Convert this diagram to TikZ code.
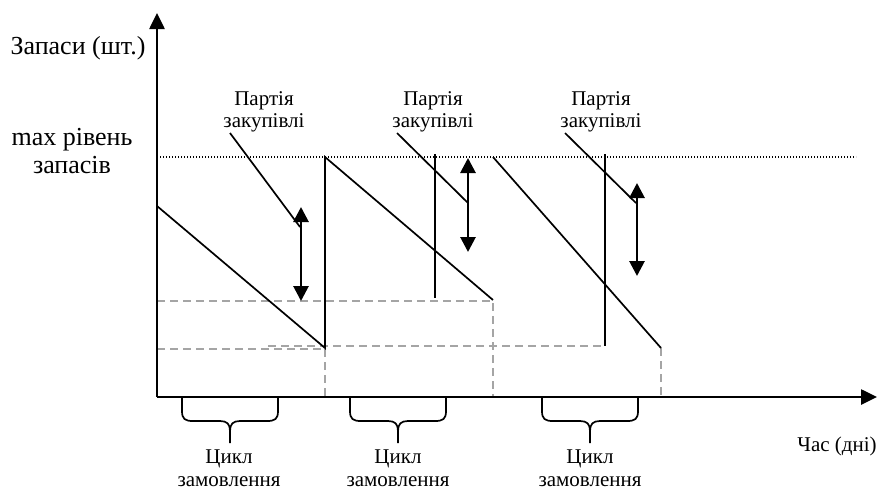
\documentclass[tikz,border=0pt]{standalone}
\usepackage{fontspec}
\setmainfont{Liberation Serif}
\usetikzlibrary{arrows.meta}
\tikzset{
  axisline/.style={line width=2.6pt,-{Triangle[width=15pt,length=16pt]}},
  saw/.style={line width=1.7pt},
  leader/.style={line width=1.7pt},
  batch/.style={line width=2.8pt,{Triangle[width=15pt,length=15pt]}-{Triangle[width=15pt,length=15pt]}},
  guide/.style={line width=1.5pt,draw={rgb,255:red,165;green,165;blue,165},dash pattern=on 8pt off 5pt},
  maxline/.style={line width=1.3pt,dash pattern=on 1.3pt off 1.7pt},
  bracepath/.style={line width=1.7pt},
  small/.style={font=\fontsize{21}{22.5}\selectfont,align=center,inner sep=0pt},
  cyc/.style={font=\fontsize{21}{23}\selectfont,align=center,inner sep=0pt},
  big/.style={font=\fontsize{26}{28}\selectfont,align=center,inner sep=0pt},
}
\newcommand{\cyclebrace}[3]{% left, right, name
  \pgfmathsetmacro{\xc}{(#1+#2)/2}
  \draw[bracepath] (#1,397) -- (#1,411) .. controls (#1,419) and (#1+3,421) .. (#1+11,421)
    -- (\xc-10,421) .. controls (\xc-3,421) and (\xc,424) .. (\xc,431) -- (\xc,443)
    -- (\xc,431) .. controls (\xc,424) and (\xc+3,421) .. (\xc+10,421)
    -- (#2-11,421) .. controls (#2-3,421) and (#2,419) .. (#2,411) -- (#2,397);
  \coordinate (#3) at (\xc,443);
}
\begin{document}
\begin{tikzpicture}[x=1pt,y=-1pt]
\useasboundingbox (0,0) rectangle (884,491);
% coordinates
\coordinate (O) at (157,397);
\coordinate (Ytop) at (157,13);
\coordinate (Xend) at (877,397);
% guide dashed lines
\draw[guide] (157,301) -- (493,301) -- (493,397);
\draw[guide] (157,349) -- (325,349);
\draw[guide] (325,349) -- (325,397);
\draw[guide] (268,346) -- (605,346);
\draw[guide] (661,348) -- (661,397);
% max level
\draw[maxline] (160,157) -- (856,157);
% sawtooth
\coordinate (s0) at (157,206);
\coordinate (s1) at (325,348);
\coordinate (s2) at (325,157);
\coordinate (s3) at (493,300);
\coordinate (s4) at (493,157);
\coordinate (s5) at (661,348);
\draw[saw] (s0) -- (s1) -- (s2) -- (s3);
\draw[saw] (s4) -- (s5);
% vertical thin lines
\draw[saw] (435,154) -- (435,298);
\draw[saw] (605,154) -- (605,346);
% axes
\draw[axisline] (O) -- (Ytop);
\draw[axisline] (O) -- (Xend);
% labels
\node[big,anchor=base] (ylab) at (78,54) {Запаси (шт.)};
\node[big] (maxlab) at (72,151) {max рівень\\запасів};
\node[small] (p1) at (264,112) {Партія\\закупівлі};
\node[small] (p2) at (433,112) {Партія\\закупівлі};
\node[small] (p3) at (601,112) {Партія\\закупівлі};
\node[small,anchor=base] (tlab) at (837,451) {Час (дні)};
% leaders
\coordinate (l1a) at (230,133); \coordinate (l1b) at (300,227);
\coordinate (l2a) at (397,133); \coordinate (l2b) at (468,203);
\coordinate (l3a) at (565,133); \coordinate (l3b) at (636,203);
\draw[leader] (l1a) -- (l1b);
\draw[leader] (l2a) -- (l2b);
\draw[leader] (l3a) -- (l3b);
% batch arrows
\coordinate (b1t) at (301,207); \coordinate (b1b) at (301,301);
\coordinate (b2t) at (468,158); \coordinate (b2b) at (468,252);
\coordinate (b3t) at (637,183); \coordinate (b3b) at (637,276);
\draw[batch] (b1t) -- (b1b);
\draw[batch] (b2t) -- (b2b);
\draw[batch] (b3t) -- (b3b);
% braces
\cyclebrace{182}{278}{c1}
\cyclebrace{350}{446}{c2}
\cyclebrace{542}{638}{c3}
\node[cyc,anchor=base] (z1) at (229,486) {Цикл\\замовлення};
\node[cyc,anchor=base] (z2) at (398,486) {Цикл\\замовлення};
\node[cyc,anchor=base] (z3) at (590,486) {Цикл\\замовлення};
\end{tikzpicture}
\end{document}
